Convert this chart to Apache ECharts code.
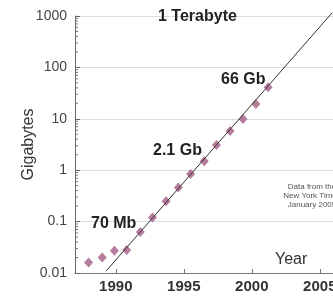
<!DOCTYPE html>
<html>
<head>
<meta charset="utf-8">
<script src="https://cdn.jsdelivr.net/npm/echarts@6/dist/echarts.min.js"></script>
<style>
  html, body { margin: 0; padding: 0; background: #fff; }
  #chart { width: 333px; height: 297px; }
</style>
</head>
<body>
<div id="chart"></div>
<script>
// disk capacity (GB) by year
const years = [1988.0, 1989.0, 1989.9, 1990.8, 1991.8, 1992.7, 1993.7, 1994.6, 1995.5, 1996.5, 1997.4, 1998.4, 1999.35, 2000.3, 2001.2]
const gigabytes = [0.016, 0.020, 0.027, 0.028, 0.063, 0.12, 0.25, 0.46, 0.84, 1.5, 3.1, 5.8, 9.9, 19.4, 41]

// trend line end points
const trendYears = [1989.3, 2005.9]
const trendValues = [0.011, 1150]

const yearTicks = [1990, 1995, 2000, 2005]
const decades = [0.01, 0.1, 1, 10, 100]
const minorSteps = [2, 3, 4, 5, 6, 7, 8, 9]

const minorTicks = []
decades.forEach(d => minorSteps.forEach(m => minorTicks.push(+(d * m).toPrecision(3))))

const font = 'Arial, "Liberation Sans", sans-serif'

const chart = echarts.init(document.getElementById('chart'))

const option = {
  animation: false,
  grid: { left: 75, right: -14, top: 16, bottom: 24, outerBoundsMode: 'none', containLabel: false },
  xAxis: {
    type: 'value',
    min: 1987,
    max: 2007,
    splitLine: { show: false },
    axisLine: { lineStyle: { color: '#777', width: 1 } },
    axisTick: { customValues: yearTicks, inside: true, length: 4, lineStyle: { color: '#777' } },
    axisLabel: {
      customValues: yearTicks,
      color: '#333',
      fontFamily: font,
      fontSize: 15,
      fontWeight: 'bold',
      margin: 6,
      formatter: v => String(v)
    }
  },
  yAxis: {
    type: 'log',
    logBase: 10,
    min: 0.01,
    max: 1000,
    name: 'Gigabytes',
    nameLocation: 'middle',
    nameGap: 38,
    nameMoveOverlap: false,
    nameTextStyle: { color: '#333', fontFamily: font, fontSize: 16 },
    axisLine: { show: true, lineStyle: { color: '#666', width: 1 } },
    axisTick: { show: true, inside: true, length: 5, lineStyle: { color: '#666' } },
    axisLabel: {
      color: '#444',
      fontFamily: font,
      fontSize: 14,
      margin: 8,
      formatter: v => String(+v.toPrecision(3))
    },
    splitLine: { show: true, lineStyle: { color: '#dcdcdc', width: 1 } }
  },
  series: [
    {
      // log minor ticks on the y axis
      type: 'custom',
      silent: true,
      data: minorTicks.map(v => [1987, v]),
      renderItem: (params, api) => {
        const p = api.coord([api.value(0), api.value(1)])
        return {
          type: 'line',
          shape: { x1: p[0], y1: p[1], x2: p[0] + 3, y2: p[1] },
          style: { stroke: '#777', lineWidth: 1 }
        }
      },
      z: 3
    },
    {
      type: 'scatter',
      symbol: 'diamond',
      symbolSize: [9, 10],
      itemStyle: { color: '#a45b84' },
      data: years.map((y, i) => [y, gigabytes[i]]),
      z: 2
    },
    {
      type: 'line',
      symbol: 'none',
      clip: false,
      lineStyle: { color: '#333', width: 1 },
      data: trendYears.map((y, i) => [y, trendValues[i]]),
      z: 4
    }
  ],
  graphic: [
    { type: 'text', left: 158, top: 9, z: 10, style: { text: '1 Terabyte', font: 'bold 16px ' + font, fill: '#222' } },
    { type: 'text', left: 221, top: 72, z: 10, style: { text: '66 Gb', font: 'bold 16px ' + font, fill: '#222' } },
    { type: 'text', left: 153, top: 143, z: 10, style: { text: '2.1 Gb', font: 'bold 16px ' + font, fill: '#222' } },
    { type: 'text', left: 91, top: 216, z: 10, style: { text: '70 Mb', font: 'bold 16px ' + font, fill: '#222' } },
    { type: 'text', left: 275, top: 252, z: 10, style: { text: 'Year', font: '16px ' + font, fill: '#333' } },
    {
      type: 'text', x: 312, y: 182, z: 10,
      style: {
        text: 'Data from the\nNew York Times\nJanuary 2005',
        font: '8px ' + font,
        fill: '#555',
        align: 'center',
        lineHeight: 9
      }
    }
  ]
}

chart.setOption(option)
window.addEventListener('resize', () => chart.resize())
</script>
</body>
</html>
